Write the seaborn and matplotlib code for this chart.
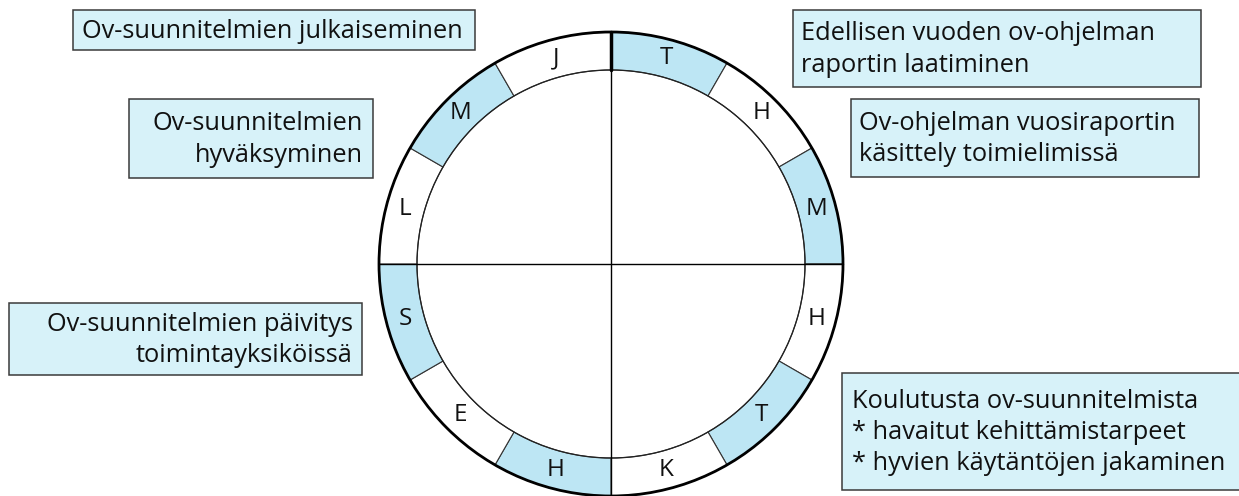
import matplotlib
matplotlib.use("Agg")
import matplotlib.pyplot as plt
from matplotlib.patches import Wedge, Circle, Rectangle
import numpy as np
import seaborn as sns

sns.set_theme(style="white")
plt.rcParams['font.family'] = ['Open Sans', 'DejaVu Sans']

# months of the year wheel, clockwise from the top (tammikuu ... joulukuu)
months = ["T", "H", "M", "H", "T", "K", "H", "E", "S", "L", "M", "J"]
shaded = [True, False, True, False, True, False, True, False, True, False, True, False]

box_texts = [
    "Ov-suunnitelmien julkaiseminen",
    "Ov-suunnitelmien\nhyväksyminen",
    "Edellisen vuoden ov-ohjelman\nraportin laatiminen",
    "Ov-ohjelman vuosiraportin\nkäsittely toimielimissä",
    "Ov-suunnitelmien päivitys\ntoimintayksiköissä",
    "Koulutusta ov-suunnitelmista\n* havaitut kehittämistarpeet\n* hyvien käytäntöjen jakaminen",
]

W, H = 1239, 496
ring_color = "#bde6f4"
box_color = "#d7f2f9"
edge = "#3a3a3a"

fig = plt.figure(figsize=(W / 100, H / 100), dpi=100)
ax = fig.add_axes([0, 0, 1, 1])
ax.set_xlim(0, W)
ax.set_ylim(0, H)
ax.set_aspect("equal")
ax.axis("off")

cx, cy = 611, H - 264
r_out, r_in = 232, 194
r_mid = (r_out + r_in) / 2

n = len(months)
step = 360 / n
for i, (m, s) in enumerate(zip(months, shaded)):
    t2 = 90 - step * i
    t1 = t2 - step
    ax.add_patch(Wedge((cx, cy), r_out, t1, t2, width=r_out - r_in,
                       facecolor=ring_color if s else "white",
                       edgecolor="#333333", linewidth=0.8))
    mid = np.deg2rad((t1 + t2) / 2)
    ax.text(cx + r_mid * np.cos(mid), cy + r_mid * np.sin(mid), m,
            ha="center", va="center", fontsize=17.5, color="#111111")

ax.add_patch(Circle((cx, cy), r_out, fill=False, edgecolor="black", linewidth=2))
ax.add_patch(Circle((cx, cy), r_in, fill=False, edgecolor="#222222", linewidth=0.9))
ax.plot([cx - r_out, cx + r_out], [cy, cy], color="black", linewidth=1)
ax.plot([cx, cx], [cy - r_out, cy + r_out], color="black", linewidth=1)
ax.plot([cx, cx], [cy + r_in, cy + r_out], color="black", linewidth=2.5)

# box geometry: (x0, y0_top, x1, y1_bottom, text x, alignment)
boxes = [
    (73, 10, 475, 50, 82, "left"),
    (129, 99, 373, 178, 363, "right"),
    (793, 10, 1201, 87, 801, "left"),
    (851, 99, 1199, 177, 859, "left"),
    (9, 303, 362, 375, 353, "right"),
    (842, 373, 1245, 490, 852, "left"),
]
for txt, (x0, y0, x1, y1, tx, ha) in zip(box_texts, boxes):
    ax.add_patch(Rectangle((x0, H - y1), x1 - x0, y1 - y0, facecolor=box_color,
                           edgecolor=edge, linewidth=1.1, clip_on=False))
    ax.text(tx, H - (y0 + y1) / 2 - 1, txt, ha=ha, va="center", multialignment=ha,
            fontsize=18.3, color="#111111", linespacing=1.32)

fig.savefig("out.png", dpi=100)
